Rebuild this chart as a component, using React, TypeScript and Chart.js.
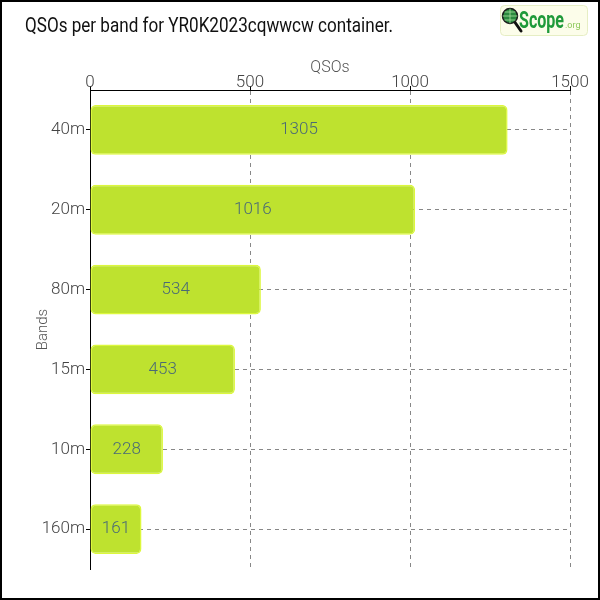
import React, { useEffect, useRef } from 'react';
import { Chart, registerables } from 'chart.js';
Chart.register(...registerables);

const bands = ['40m', '20m', '80m', '15m', '10m', '160m'];
const qsos = [1305, 1016, 534, 453, 228, 161];
const xTickValues = [0, 500, 1000, 1500];
const chartTitle = 'QSOs per band for YR0K2023cqwwcw container.';
const xAxisTitle = 'QSOs';
const yAxisTitle = 'Bands';
const logoMain = 'Scope';
const logoSuffix = '.org';

const FONT = 'Roboto, "DejaVu Sans", sans-serif';

const decor = {
  id: 'decor',
  afterDraw(chart: any) {
    const ctx = chart.ctx as CanvasRenderingContext2D;
    ctx.save();
    // outer frame
    ctx.strokeStyle = '#000';
    ctx.lineWidth = 2;
    ctx.strokeRect(1, 1, 598, 598);
    // title
    ctx.fillStyle = '#111';
    ctx.font = `400 20px ${FONT}`;
    ctx.textBaseline = 'middle';
    ctx.textAlign = 'left';
    ctx.fillText(chartTitle, 25, 27, 368);
    // logo box
    ctx.fillStyle = '#fcfdea';
    ctx.strokeStyle = '#e6eec4';
    ctx.lineWidth = 1;
    ctx.beginPath();
    (ctx as any).roundRect(500.5, 5.5, 87, 30, 4);
    ctx.fill();
    ctx.stroke();
    // magnifier handle
    ctx.strokeStyle = '#111';
    ctx.lineWidth = 3;
    ctx.lineCap = 'round';
    ctx.beginPath();
    ctx.moveTo(514, 21);
    ctx.lineTo(521, 31);
    ctx.stroke();
    // magnifier lens
    ctx.beginPath();
    ctx.arc(510, 16, 7.5, 0, Math.PI * 2);
    ctx.fillStyle = '#2a8a3e';
    ctx.fill();
    ctx.lineWidth = 1.5;
    ctx.strokeStyle = '#1a1a1a';
    ctx.stroke();
    ctx.strokeStyle = '#a8e0a0';
    ctx.lineWidth = 0.8;
    ctx.beginPath();
    ctx.moveTo(503, 16); ctx.lineTo(517, 16);
    ctx.moveTo(510, 9); ctx.lineTo(510, 23);
    ctx.moveTo(505, 12); ctx.lineTo(515, 12);
    ctx.moveTo(505, 20); ctx.lineTo(515, 20);
    ctx.stroke();
    // logo text
    ctx.textBaseline = 'alphabetic';
    ctx.fillStyle = '#1f9a3a';
    ctx.font = `bold 24px ${FONT}`;
    ctx.fillText(logoMain, 519, 28, 45);
    ctx.fillStyle = '#8cc85a';
    ctx.font = `9px ${FONT}`;
    ctx.fillText(logoSuffix, 565, 28);
    ctx.restore();
  },
};

const barLabels = {
  id: 'barLabels',
  afterDatasetsDraw(chart: any) {
    const ctx = chart.ctx as CanvasRenderingContext2D;
    const meta = chart.getDatasetMeta(0);
    ctx.save();
    ctx.fillStyle = '#4a6a76';
    ctx.font = `300 17px ${FONT}`;
    ctx.textAlign = 'center';
    ctx.textBaseline = 'middle';
    meta.data.forEach((el: any, i: number) => {
      const x = (el.x + el.base) / 2;
      ctx.fillText(String(chart.data.datasets[0].data[i]), x, el.y);
    });
    ctx.restore();
  },
};

export default function App() {
  const ref = useRef<HTMLCanvasElement>(null);
  useEffect(() => {
    document.body.style.margin = '0';
    const chart = new Chart(ref.current!, {
      type: 'bar',
      data: {
        labels: bands,
        datasets: [
          {
            data: qsos,
            backgroundColor: '#bee22f',
            borderColor: '#dcf83c',
            borderWidth: 1.5,
            borderRadius: 5,
            borderSkipped: false,
            categoryPercentage: 1,
            barPercentage: 0.625,
          },
        ],
      },
      options: {
        indexAxis: 'y',
        responsive: false,
        animation: false,
        layout: { padding: { top: 53, left: 0, right: 30, bottom: 31 } },
        plugins: {
          legend: { display: false },
          tooltip: { enabled: false },
          title: { display: false },
        },
        scales: {
          x: {
            position: 'top',
            min: 0,
            max: 1500,
            afterBuildTicks: (s: any) => {
              s.ticks = xTickValues.map((v) => ({ value: v }));
            },
            afterFit: (s: any) => {
              s.height = 37;
            },
            ticks: {
              font: { family: FONT, size: 17, weight: 300 },
              color: '#444',
              padding: -7,
              maxRotation: 0,
              callback: (v: any) => String(v),
            },
            grid: {
              color: '#888',
              borderDash: [4, 4],
              tickBorderDash: [],
              tickColor: '#000',
              tickLength: 4,
            } as any,
            border: { display: true, color: '#000', width: 1, dash: [4, 4] } as any,
            title: {
              display: true,
              text: xAxisTitle,
              font: { family: FONT, size: 16, weight: 300 },
              color: '#555',
              padding: { top: 5, bottom: 0 },
            },
          },
          y: {
            afterFit: (s: any) => {
              s.width = 90;
            },
            ticks: { font: { family: FONT, size: 17, weight: 300 }, color: '#444', padding: 1 },
            grid: {
              offset: false,
              color: '#888',
              borderDash: [4, 4],
              tickBorderDash: [],
              tickColor: '#000',
              tickLength: 4,
            } as any,
            border: { display: true, color: '#000', width: 1, dash: [4, 4] } as any,
            title: {
              display: true,
              text: yAxisTitle,
              font: { family: FONT, size: 15, weight: 300 },
              color: '#555',
              padding: { top: 34, bottom: 0 },
            },
          },
        },
      },
      plugins: [barLabels, decor],
    });
    return () => chart.destroy();
  }, []);
  return <canvas ref={ref} width={600} height={600} style={{ display: 'block' }} />;
}
